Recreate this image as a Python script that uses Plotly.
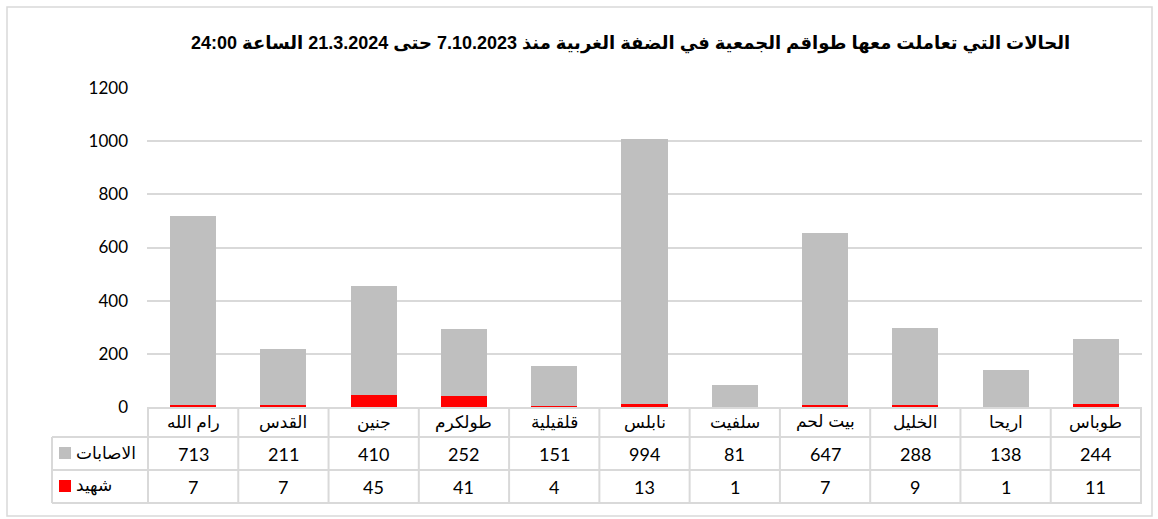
import plotly.graph_objects as go

categories = ["رام الله", "القدس", "جنين", "طولكرم", "قلقيلية", "نابلس", "سلفيت", "بيت لحم", "الخليل", "اريحا", "طوباس"]
injuries = [713, 211, 410, 252, 151, 994, 81, 647, 288, 138, 244]
deaths = [7, 7, 45, 41, 4, 13, 1, 7, 9, 1, 11]
injuries_name = "الاصابات"
deaths_name = "شهيد"
title_text = "الحالات التي تعاملت معها طواقم الجمعية في الضفة الغربية منذ 7.10.2023 حتى 21.3.2024 الساعة 24:00"
y_ticks = [0, 200, 400, 600, 800, 1000, 1200]

GRAY = "#bfbfbf"
RED = "#ff0000"
LINE = "#d9d9d9"
FONT = "Liberation Sans, DejaVu Sans, sans-serif"
NUMFONT = "Lato, Open Sans, sans-serif"

W, H = 1158, 519
L, R, T, B = 147, 16, 88, 112
pw, ph = W - L - R, H - T - B

def py(pix):
    return (T + ph - pix) / ph

def px(pix):
    return (pix - L) / pw

fig = go.Figure()
fig.add_trace(go.Bar(x=categories, y=deaths, name=deaths_name, marker_color=RED, marker_line_width=0))
fig.add_trace(go.Bar(x=categories, y=injuries, name=injuries_name, marker_color=GRAY, marker_line_width=0))

shapes = []
annotations = []
n = len(categories)
left_tab = px(52)
for pix, x0 in [(408, 0), (437, left_tab), (470, left_tab), (503, left_tab)]:
    shapes.append(dict(type="line", xref="paper", yref="paper", x0=x0, x1=1, y0=py(pix), y1=py(pix),
                       line=dict(color=LINE, width=2)))
for i in range(n + 1):
    shapes.append(dict(type="line", xref="x", yref="paper", x0=i - 0.5, x1=i - 0.5, y0=py(408), y1=py(503),
                       line=dict(color=LINE, width=2)))
shapes.append(dict(type="line", xref="paper", yref="paper", x0=left_tab, x1=left_tab, y0=py(437), y1=py(503),
                   line=dict(color=LINE, width=2)))
shapes.append(dict(type="rect", xref="paper", yref="paper", x0=px(7), x1=px(1152), y0=py(7), y1=py(516),
                   line=dict(color=LINE, width=1.5)))
for pix, col in [(453, GRAY), (486, RED)]:
    shapes.append(dict(type="rect", xref="paper", yref="paper", x0=px(59), x1=px(71), y0=py(pix + 6), y1=py(pix - 6),
                       line=dict(width=0), fillcolor=col))
annotations.append(dict(xref="paper", yref="paper", x=px(74), y=py(453), text=injuries_name, showarrow=False,
                        xanchor="left", yanchor="middle", font=dict(size=17, color="#000", family=FONT)))
annotations.append(dict(xref="paper", yref="paper", x=px(74), y=py(486), text=deaths_name, showarrow=False,
                        xanchor="left", yanchor="middle", font=dict(size=17, color="#000", family=FONT)))

for c, inj, d in zip(categories, injuries, deaths):
    annotations.append(dict(xref="x", yref="paper", x=c, y=py(422), text=c, showarrow=False,
                            yanchor="middle", font=dict(size=17, color="#000", family=FONT)))
    annotations.append(dict(xref="x", yref="paper", x=c, y=py(454), text=str(inj), showarrow=False,
                            yanchor="middle", font=dict(size=18, color="#000", family=NUMFONT)))
    annotations.append(dict(xref="x", yref="paper", x=c, y=py(487), text=str(d), showarrow=False,
                            yanchor="middle", font=dict(size=18, color="#000", family=NUMFONT)))

annotations.append(dict(xref="paper", yref="paper", x=px(630), y=py(44), text="<b>" + title_text + "</b>",
                        showarrow=False, xanchor="center", yanchor="middle",
                        font=dict(size=18, color="#000", family=FONT)))

fig.update_layout(
    width=W, height=H,
    margin=dict(l=L, r=R, t=T, b=B),
    barmode="stack", bargap=0.49,
    showlegend=False,
    plot_bgcolor="white", paper_bgcolor="white",
    shapes=shapes, annotations=annotations,
    xaxis=dict(showticklabels=False, showgrid=False, zeroline=False, showline=False, ticks=""),
    yaxis=dict(range=[0, 1200], tickvals=y_ticks, showgrid=True, gridcolor=LINE, gridwidth=1.5,
               zeroline=False, showline=False, ticks="", ticklabelstandoff=18,
               tickfont=dict(size=17, color="#000", family=NUMFONT)),
)

fig.write_html("out.html", config={"displayModeBar": False},
               post_script="document.body.style.margin='0';document.body.style.overflow='hidden';")
